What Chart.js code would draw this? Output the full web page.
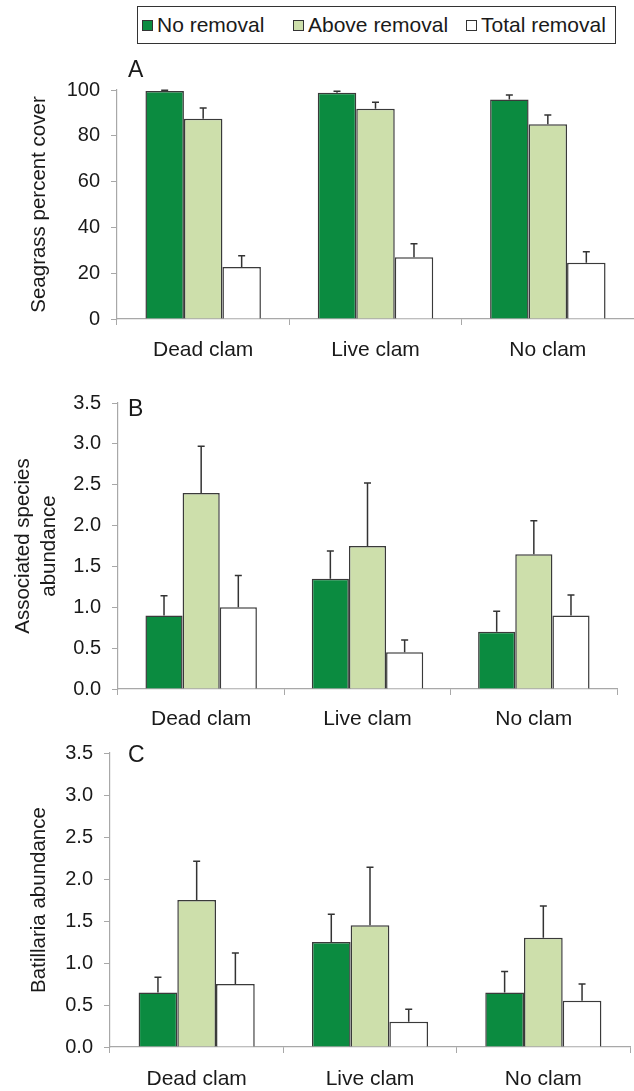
<!DOCTYPE html>
<html>
<head>
<meta charset="utf-8">
<script src="https://cdn.jsdelivr.net/npm/chart.js@4.4.1/dist/chart.umd.min.js"></script>
<style>
  html, body { margin: 0; padding: 0; background: #fff; }
  #wrap { position: relative; width: 634px; height: 1091px; overflow: hidden; font-family: "Liberation Sans", Arial, sans-serif; }
  canvas { position: absolute; left: 0; }
  #legend { position: absolute; left: 137px; top: 6px; width: 477px; height: 36px; border: 1.5px solid #333; box-sizing: content-box;
            font-size: 21px; color: #1a1a1a; }
  .item { display: flex; align-items: center; position: absolute; top: 0; height: 36px; }
  .sw { width: 9px; height: 9px; border: 1.3px solid #333; margin-right: 4px; }
  .letter { position: absolute; font-size: 23px; color: #1a1a1a; line-height: 1; }
</style>
</head>
<body>
<div id="wrap">
  <div id="legend"></div>
  <canvas id="cA" width="634" height="320" style="top:50px"></canvas>
  <canvas id="cB" width="634" height="355" style="top:380px"></canvas>
  <canvas id="cC" width="634" height="361" style="top:730px"></canvas>
  <div class="letter" style="left:128px;top:58px">A</div>
  <div class="letter" style="left:128px;top:397px">B</div>
  <div class="letter" style="left:128px;top:743px">C</div>
</div>
<script>
// ---------- data ----------
const categories = ['Dead clam', 'Live clam', 'No clam'];
const seriesNames = ['No removal', 'Above removal', 'Total removal'];
const seriesColors = ['#0b8b40', '#cddfab', '#ffffff'];

// Panel A: seagrass percent cover
const seagrassNo        = [99.6, 98.8, 95.8];
const seagrassNoErr     = [0.3, 0.6, 2.0];
const seagrassAbove     = [87.5, 91.8, 85.0];
const seagrassAboveErr  = [4.6, 2.8, 4.1];
const seagrassTotal     = [22.7, 27.0, 24.6];
const seagrassTotalErr  = [4.9, 5.9, 4.8];

// Panel B: associated species abundance
const assocNo        = [0.90, 1.35, 0.70];
const assocNoErr     = [0.24, 0.34, 0.25];
const assocAbove     = [2.40, 1.75, 1.65];
const assocAboveErr  = [0.57, 0.77, 0.41];
const assocTotal     = [1.00, 0.45, 0.90];
const assocTotalErr  = [0.39, 0.15, 0.25];

// Panel C: Batillaria abundance
const batNo        = [0.65, 1.25, 0.65];
const batNoErr     = [0.18, 0.33, 0.25];
const batAbove     = [1.75, 1.45, 1.30];
const batAboveErr  = [0.46, 0.69, 0.38];
const batTotal     = [0.75, 0.30, 0.55];
const batTotalErr  = [0.37, 0.15, 0.20];

// tick labels
const ticksA = [0, 20, 40, 60, 80, 100];
const ticksBC = [0.0, 0.5, 1.0, 1.5, 2.0, 2.5, 3.0, 3.5];

// ---------- legend (HTML) ----------
const legendPos = [4, 155, 328];
const legend = document.getElementById('legend');
seriesNames.forEach((n, i) => {
  const it = document.createElement('div');
  it.className = 'item';
  it.style.left = legendPos[i] + 'px';
  const sw = document.createElement('div');
  sw.className = 'sw';
  sw.style.background = seriesColors[i];
  const tx = document.createElement('span');
  tx.textContent = n;
  it.appendChild(sw); it.appendChild(tx);
  legend.appendChild(it);
});

// ---------- error bar plugin ----------
const errorBars = {
  id: 'errorBars',
  afterDatasetsDraw(chart) {
    const ctx = chart.ctx;
    const y = chart.scales.y;
    ctx.save();
    ctx.strokeStyle = '#333';
    ctx.lineWidth = 1.5;
    chart.data.datasets.forEach((ds, di) => {
      const meta = chart.getDatasetMeta(di);
      meta.data.forEach((bar, i) => {
        const top = y.getPixelForValue(ds.data[i] + ds.err[i]);
        const base = y.getPixelForValue(ds.data[i]);
        ctx.beginPath();
        ctx.moveTo(bar.x, base);
        ctx.lineTo(bar.x, top);
        ctx.moveTo(bar.x - 3.5, top);
        ctx.lineTo(bar.x + 3.5, top);
        ctx.stroke();
      });
    });
    ctx.restore();
  }
};

const FONT = "'Liberation Sans', Arial, sans-serif";
const AXIS = '#a8a8a8';

function makeChart(id, vals, errs, tickVals, decimals, title, geo) {
  const datasets = vals.map((v, i) => ({
    label: seriesNames[i],
    data: v,
    err: errs[i],
    backgroundColor: seriesColors[i],
    borderColor: '#3a3a3a',
    borderWidth: 1.5,
    categoryPercentage: 0.67,
    barPercentage: 1.0
  }));
  return new Chart(document.getElementById(id), {
    type: 'bar',
    data: { labels: categories, datasets },
    options: {
      responsive: false,
      animation: false,
      events: [],
      layout: { padding: { top: geo.padTop, right: geo.padRight, left: 0, bottom: 0 } },
      plugins: { legend: { display: false }, tooltip: { enabled: false } },
      scales: {
        x: {
          grid: { display: true, drawOnChartArea: false, drawTicks: true, tickLength: 6, color: AXIS, offset: true },
          border: { color: AXIS, width: 1.2 },
          ticks: { color: '#1a1a1a', font: { family: FONT, size: 21 }, padding: geo.xPad },
          afterFit: (s) => { s.height = geo.xHeight; }
        },
        y: {
          min: tickVals[0],
          max: tickVals[tickVals.length - 1],
          grid: { display: true, drawOnChartArea: false, drawTicks: true, tickLength: 6, color: AXIS },
          border: { color: AXIS, width: 1.2 },
          ticks: {
            stepSize: tickVals[1] - tickVals[0],
            color: '#1a1a1a',
            font: { family: FONT, size: 20 },
            padding: 11,
            callback: (v) => Number(v).toFixed(decimals)
          },
          title: {
            display: true,
            text: title,
            color: '#1a1a1a',
            font: { family: FONT, size: 20.5, lineHeight: geo.titleLH },
            padding: { top: geo.titlePad, bottom: 0 }
          },
          afterFit: (s) => { s.width = geo.yWidth; }
        }
      }
    },
    plugins: [errorBars]
  });
}

makeChart('cA',
  [seagrassNo, seagrassAbove, seagrassTotal],
  [seagrassNoErr, seagrassAboveErr, seagrassTotalErr],
  ticksA, 0, 'Seagrass percent cover',
  { padTop: 40, padRight: 0, xHeight: 51, xPad: 13, yWidth: 117, titleLH: 1.2, titlePad: 27.5 });

makeChart('cB',
  [assocNo, assocAbove, assocTotal],
  [assocNoErr, assocAboveErr, assocTotalErr],
  ticksBC, 1, ['Associated species', 'abundance'],
  { padTop: 20, padRight: 17, xHeight: 46, xPad: 11.5, yWidth: 118, titleLH: 1.27, titlePad: 10 });

makeChart('cC',
  [batNo, batAbove, batTotal],
  [batNoErr, batAboveErr, batTotalErr],
  ticksBC, 1, 'Batillaria abundance',
  { padTop: 17, padRight: 4, xHeight: 44, xPad: 14, yWidth: 110, titleLH: 1.2, titlePad: 27.5 });
</script>
</body>
</html>
